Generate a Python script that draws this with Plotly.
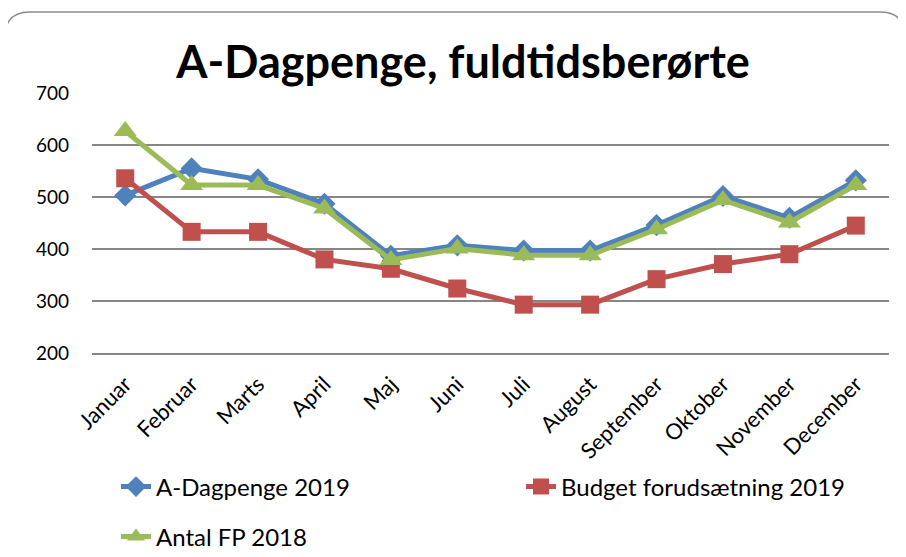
import plotly.graph_objects as go

months = ["Januar", "Februar", "Marts", "April", "Maj", "Juni", "Juli",
          "August", "September", "Oktober", "November", "December"]
a_dagpenge_2019 = [503, 555, 534, 487, 387, 407, 397, 397, 446, 502, 460, 532]
budget_2019 = [536, 433, 433, 380, 362, 324, 293, 293, 342, 371, 390, 445]
antal_fp_2018 = [627, 523, 523, 478, 379, 401, 388, 388, 438, 494, 451, 523]

# page has an 8px body margin; lay out in reference pixel coords and shift
OFF = 8
W, H = 906 - OFF, 557 - OFF
L, R, T, B = 92 - OFF, 17, 93 - OFF, 204
pw, ph = W - L - R, H - T - B

def px(x):
    return (x - OFF - L) / pw

def py(y):
    return (H - B - (y - OFF)) / ph

def cx(x):
    return (x - OFF) / W

def cy(y):
    return 1 - (y - OFF) / H

fig = go.Figure()
fig.add_trace(go.Scatter(x=months, y=a_dagpenge_2019, name="A-Dagpenge 2019",
                         mode="lines+markers",
                         line=dict(color="#4F81BD", width=5),
                         marker=dict(symbol="diamond", size=17, color="#4F81BD"),
                         legend="legend"))
fig.add_trace(go.Scatter(x=months, y=budget_2019, name="Budget forudsætning 2019",
                         mode="lines+markers",
                         line=dict(color="#C0504D", width=5),
                         marker=dict(symbol="square", size=18, color="#C0504D"),
                         legend="legend2"))
fig.add_trace(go.Scatter(x=months, y=antal_fp_2018, name="Antal FP 2018",
                         mode="lines+markers",
                         line=dict(color="#9BBB59", width=5),
                         marker=dict(symbol="triangle-up", size=20, color="#9BBB59"),
                         legend="legend3"))

# rounded frame
x0, y0, y1, r = px(5), py(12), py(600), 25
rx, ry = r / pw, r / ph
path = (f"M {x0},{y1} L {x0},{y0 - ry} Q {x0},{y0} {x0 + rx},{y0} "
        f"L {px(880)},{y0} Q {px(905)},{y0} {px(905)},{y0 - ry} L {px(905)},{y1}")
fig.add_shape(type="path", path=path, xref="paper", yref="paper",
              line=dict(color="#8C8C8C", width=1.5), layer="below")

legend_common = dict(orientation="v", font=dict(family="Lato", size=24, color="#000"),
                     bgcolor="rgba(0,0,0,0)", xanchor="left", yanchor="middle",
                     xref="container", yref="container", itemclick=False)
fig.update_layout(
    width=W, height=H,
    margin=dict(l=L, r=R, t=T, b=B, autoexpand=False),
    paper_bgcolor="white", plot_bgcolor="white",
    title=dict(text="<b>A-Dagpenge, fuldtidsberørte</b>",
               font=dict(family="Lato", size=45, color="#000"),
               x=cx(463), xanchor="center", xref="container",
               y=cy(62), yanchor="middle", yref="container"),
    xaxis=dict(showgrid=False, showline=True, linecolor="#868686", linewidth=1.5,
               range=[-0.5, 11.5], automargin=False,
               tickangle=-45, tickfont=dict(family="Lato", size=22, color="#000"),
               ticks="", ticklabelstandoff=8),
    yaxis=dict(range=[200, 700], dtick=100, showgrid=True, gridcolor="#868686",
               gridwidth=1.5, zeroline=False, showline=False, automargin=False,
               tickfont=dict(family="Lato", size=19, color="#000"),
               ticklabelstandoff=22),
    legend=dict(**legend_common, x=cx(116), y=cy(487)),
    legend2=dict(**legend_common, x=cx(521), y=cy(487)),
    legend3=dict(**legend_common, x=cx(116), y=cy(537)),
    showlegend=True,
)
fig.write_html("out.html")
